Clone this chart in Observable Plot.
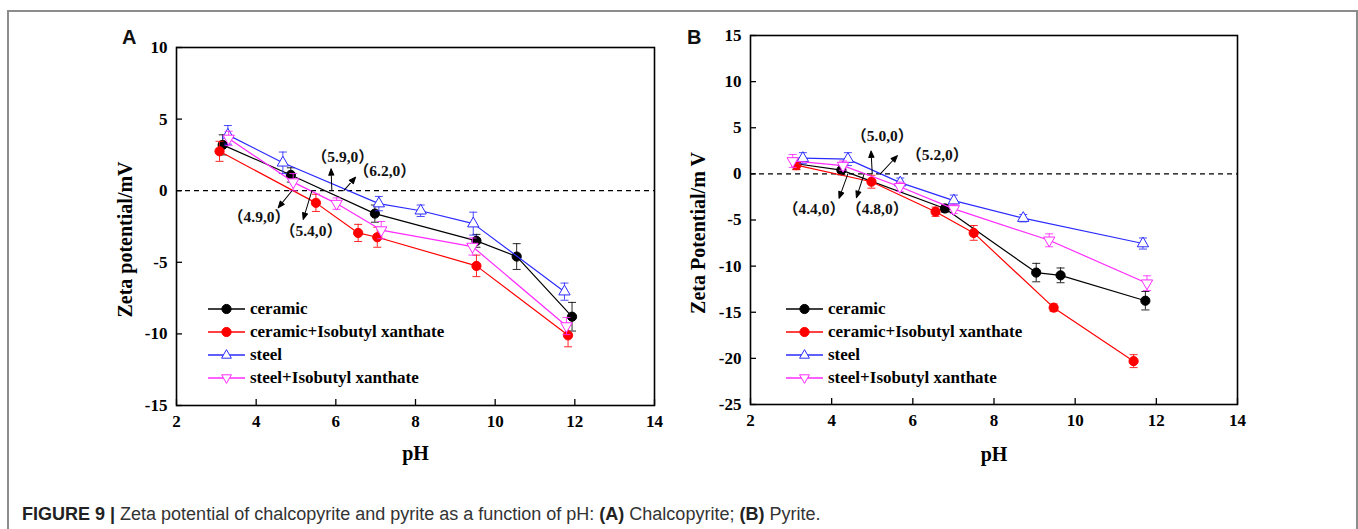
<!DOCTYPE html>
<html>
<head>
<meta charset="utf-8">
<script src="https://cdn.jsdelivr.net/npm/d3@7"></script>
<script src="https://cdn.jsdelivr.net/npm/@observablehq/plot@0.6"></script>
<style>
  body { margin: 0; background: #fff; }
  #root { position: relative; width: 1358px; height: 529px; overflow: hidden; background: #fff; }
  .panel { position: absolute; top: 0; }
  #border { position: absolute; left: 7px; top: 10px; width: 1351px; height: 600px; border: 2px solid #8c8c8c; box-sizing: border-box; pointer-events: none; z-index: 5; }
  .plabel { position: absolute; font-family: "Liberation Sans", Arial, sans-serif; font-weight: bold; font-size: 20px; line-height: 20px; color: #111; }
  .legend { position: absolute; top: 0; font-family: "Liberation Serif", "Times New Roman", serif; font-weight: bold; font-size: 17px; color: #000; z-index: 4; }
  .legend .row { position: absolute; left: 0; height: 20px; white-space: nowrap; display: flex; align-items: center; }
  .legend .row span { margin-left: 5px; }
  #caption { position: absolute; left: 22px; top: 505px; font-family: "Liberation Sans", Arial, sans-serif; font-size: 18px; line-height: 18px; color: #333; white-space: nowrap; }
  #caption b { color: #222; }
</style>
</head>
<body>
<div id="root">
  <div id="panelA" class="panel" style="left:0px"></div>
  <div id="panelB" class="panel" style="left:680px"></div>
  <div class="plabel" style="left:122px; top:27px">A</div>
  <div class="plabel" style="left:687px; top:27px">B</div>
  <div id="legendA" class="legend" style="left:208px"></div>
  <div id="legendB" class="legend" style="left:786px"></div>
  <div id="caption"><b>FIGURE 9 |</b> Zeta potential of chalcopyrite and pyrite as a function of pH: <b>(A)</b> Chalcopyrite; <b>(B)</b> Pyrite.</div>
  <div id="border"></div>
</div>
<script>
// ---------- data ----------
const pHTicks = [2, 4, 6, 8, 10, 12, 14];
const yTicksA = [-15, -10, -5, 0, 5, 10];
const yTicksB = [-25, -20, -15, -10, -5, 0, 5, 10, 15];
const seriesNames = ["ceramic", "ceramic+Isobutyl xanthate", "steel", "steel+Isobutyl xanthate"];
const yTitleA = "Zeta potential/mV";
const yTitleB = "Zeta Potential/m V";
const xTitle = "pH";

// Panel A: chalcopyrite
const aCeramicPH   = [3.16, 4.87, 6.98, 9.53, 10.54, 11.93];
const aCeramicZeta = [3.2, 1.1, -1.6, -3.5, -4.6, -8.8];
const aCeramicErr  = [0.7, 0.5, 0.6, 0.45, 0.9, 1.0];

const aCerXanPH    = [3.08, 5.5, 6.56, 7.04, 9.53, 11.83];
const aCerXanZeta  = [2.75, -0.85, -2.95, -3.25, -5.25, -10.1];
const aCerXanErr   = [0.7, 0.6, 0.6, 0.7, 0.75, 0.8];

const aSteelPH     = [3.29, 4.67, 7.08, 8.13, 9.45, 11.74];
const aSteelZeta   = [3.9, 1.95, -0.9, -1.4, -2.3, -7.05];
const aSteelErr    = [0.65, 0.75, 0.5, 0.4, 0.8, 0.6];

const aSteelXanPH  = [3.31, 4.93, 6.02, 7.14, 9.43, 11.79];
const aSteelXanZeta= [3.65, 0.6, -0.9, -2.75, -3.9, -9.45];
const aSteelXanErr = [0.5, 0.6, 0.4, 0.6, 0.6, 0.6];

// Panel B: pyrite
const bCeramicPH   = [3.13, 4.24, 6.79, 9.04, 9.64, 11.73];
const bCeramicZeta = [1.1, 0.4, -3.75, -10.7, -11.0, -13.75];
const bCeramicErr  = [0.6, 0.5, 0.4, 1.0, 0.8, 1.0];

const bCerXanPH    = [3.13, 4.98, 6.56, 7.5, 9.47, 11.44];
const bCerXanZeta  = [0.95, -0.85, -4.1, -6.4, -14.5, -20.3];
const bCerXanErr   = [0.5, 0.7, 0.5, 0.8, 0.4, 0.7];

const bSteelPH     = [3.29, 4.4, 5.69, 7.01, 8.72, 11.67];
const bSteelZeta   = [1.7, 1.6, -0.95, -2.9, -4.8, -7.55];
const bSteelErr    = [0.6, 0.7, 0.5, 0.6, 0.4, 0.6];

const bSteelXanPH  = [3.04, 4.28, 5.68, 7.01, 9.36, 11.77];
const bSteelXanZeta= [1.4, 0.9, -1.4, -3.8, -7.2, -11.85];
const bSteelXanErr = [0.7, 0.5, 0.5, 0.5, 0.7, 0.8];

// zero-crossing annotations (pH values)
const annotA = [4.9, 5.4, 5.9, 6.2];
const annotB = [5.0, 5.2, 4.4, 4.8];

// ---------- styling / layout (not data) ----------
const styles = [
  {color: "#000000", symbol: "circle", fill: "#000000", r: 4.6},
  {color: "#ff0000", symbol: "circle", fill: "#ff0000", r: 4.6},
  {color: "#2b2bff", symbol: "up",     fill: "white",   r: 4.2},
  {color: "#ff2bff", symbol: "down",   fill: "white",   r: 4.2}
];
// arrow angle (deg, clockwise from up), length (px), label offset (px)
const annotLayoutA = [
  {angle: 219, len: 22, tdx: -33, tdy: 26},
  {angle: 197, len: 30, tdx: -1,  tdy: 40},
  {angle: 358, len: 22, tdx: 11,  tdy: -34},
  {angle: 41,  len: 18, tdx: 41,  tdy: -20}
];
const annotLayoutB = [
  {angle: 357, len: 23, tdx: 10,  tdy: -38},
  {angle: 43,  len: 25, tdx: 57,  tdy: -19},
  {angle: 200, len: 26, tdx: -34, tdy: 35},
  {angle: 198, len: 25, tdx: 13,  tdy: 35}
];

const sq3 = Math.sqrt(3);
const symUp = { draw(ctx, size) { const y = -Math.sqrt(size / (sq3 * 3)); ctx.moveTo(0, y * 2); ctx.lineTo(-sq3 * y, -y); ctx.lineTo(sq3 * y, -y); ctx.closePath(); } };
const symDown = { draw(ctx, size) { const y = -Math.sqrt(size / (sq3 * 3)); ctx.moveTo(0, -y * 2); ctx.lineTo(-sq3 * y, y); ctx.lineTo(sq3 * y, y); ctx.closePath(); } };
const symCap = { draw(ctx, size) { const w = Math.sqrt(size / Math.PI); ctx.moveTo(-w, 0); ctx.lineTo(w, 0); } };
const arrowShape = { draw(ctx, l) { ctx.moveTo(0, 0); ctx.lineTo(0, -l + 4); ctx.moveTo(0, -l); ctx.lineTo(-2.6, -l + 6.5); ctx.lineTo(2.6, -l + 6.5); ctx.closePath(); } };
function symbolOf(s) { return s === "up" ? symUp : s === "down" ? symDown : "circle"; }

function rows(ph, z, e) { return ph.map((p, i) => ({ph: p, z: z[i], e: e[i]})); }

function seriesMarks(data, st) {
  return [
    Plot.line(data, {x: "ph", y: "z", stroke: st.color, strokeWidth: 1.2}),
    Plot.ruleX(data, {x: "ph", y1: d => d.z - d.e, y2: d => d.z + d.e, stroke: st.color, strokeWidth: 1, strokeOpacity: 0.85}),
    Plot.dot(data, {x: "ph", y: d => d.z + d.e, symbol: symCap, r: 4, stroke: st.color, strokeWidth: 1, strokeOpacity: 0.85}),
    Plot.dot(data, {x: "ph", y: d => d.z - d.e, symbol: symCap, r: 4, stroke: st.color, strokeWidth: 1, strokeOpacity: 0.85}),
    Plot.dot(data, {x: "ph", y: "z", symbol: symbolOf(st.symbol), r: st.r, fill: st.fill, stroke: st.color, strokeWidth: 1})
  ];
}

function annotMarks(phs, layout) {
  const out = [];
  phs.forEach((p, i) => {
    const L = layout[i];
    const d = [{ph: p, label: "（" + p.toFixed(1) + ",0）"}];
    out.push(Plot.vector(d, {x: "ph", y: () => 0, anchor: "start", rotate: L.angle, length: L.len, shape: arrowShape, stroke: "black", fill: "black", strokeWidth: 1}));
    out.push(Plot.text(d, {x: "ph", y: () => 0, text: "label", dx: L.tdx, dy: L.tdy, fontSize: 15.5, fontWeight: "bold", fontFamily: "Liberation Serif, 'Noto Sans CJK SC', serif", fill: "#111"}));
  });
  return out;
}

const fmt = d => String(d);

function makePanel(opts) {
  return Plot.plot({
    width: opts.width, height: 480,
    marginLeft: opts.ml, marginRight: opts.mr, marginTop: opts.mt, marginBottom: opts.mb,
    style: {background: "transparent", fontFamily: "'Liberation Serif', 'Times New Roman', serif", fontSize: "17px", fontWeight: "bold", color: "black", overflow: "visible"},
    x: {domain: [2, 14]},
    y: {domain: opts.ydomain},
    marks: [
      Plot.ruleY([0], {stroke: "black", strokeWidth: 1.3, strokeDasharray: "5,4"}),
      ...opts.series.flatMap((s, i) => seriesMarks(s, styles[i])),
      ...annotMarks(opts.annot, opts.annotLayout),
      Plot.frame({stroke: "black", strokeWidth: 1.6}),
      Plot.axisX(pHTicks, {tickSize: -6, tickPadding: 15, tickFormat: fmt, label: null, fontSize: 17, fontWeight: "bold", strokeWidth: 1.3}),
      Plot.axisY(opts.yticks, {tickSize: -6, tickPadding: 15, tickFormat: fmt, label: null, fontSize: 17, fontWeight: "bold", strokeWidth: 1.3}),
      Plot.text([opts.ytitle], {text: d => d, frameAnchor: "left", textAnchor: "middle", lineAnchor: "middle", rotate: -90, dx: opts.ytdx, dy: opts.ytdy, fontSize: 20, fontWeight: "bold"}),
      Plot.text([xTitle], {text: d => d, frameAnchor: "bottom", textAnchor: "middle", lineAnchor: "middle", dy: opts.xtdy, fontSize: 20, fontWeight: "bold"})
    ]
  });
}

const plotA = makePanel({
  width: 680, ml: 176, mr: 26, mt: 47, mb: 75, ydomain: [-15, 10], yticks: yTicksA,
  ytitle: yTitleA, ytdx: -51, ytdy: 13, xtdy: 48,
  series: [rows(aCeramicPH, aCeramicZeta, aCeramicErr), rows(aCerXanPH, aCerXanZeta, aCerXanErr), rows(aSteelPH, aSteelZeta, aSteelErr), rows(aSteelXanPH, aSteelXanZeta, aSteelXanErr)],
  annot: annotA, annotLayout: annotLayoutA
});
const plotB = makePanel({
  width: 620, ml: 70, mr: 63, mt: 35, mb: 76, ydomain: [-25, 15], yticks: yTicksB,
  ytitle: yTitleB, ytdx: -52, ytdy: 13, xtdy: 50,
  series: [rows(bCeramicPH, bCeramicZeta, bCeramicErr), rows(bCerXanPH, bCerXanZeta, bCerXanErr), rows(bSteelPH, bSteelZeta, bSteelErr), rows(bSteelXanPH, bSteelXanZeta, bSteelXanErr)],
  annot: annotB, annotLayout: annotLayoutB
});
document.getElementById("panelA").appendChild(plotA);
document.getElementById("panelB").appendChild(plotB);

// ---------- legends ----------
function legendSymbolSVG(st) {
  let sym;
  if (st.symbol === "circle") sym = `<circle cx="18.5" cy="7" r="4.6" fill="${st.fill}" stroke="${st.color}"/>`;
  else if (st.symbol === "up") sym = `<path d="M18.5,1.6 L23.4,10.2 L13.6,10.2 Z" fill="white" stroke="${st.color}"/>`;
  else sym = `<path d="M18.5,12.4 L23.4,3.8 L13.6,3.8 Z" fill="white" stroke="${st.color}"/>`;
  return `<svg width="37" height="14" style="overflow:visible"><line x1="0" y1="7" x2="37" y2="7" stroke="${st.color}" stroke-width="1.3"/>${sym}</svg>`;
}
const legendRowsTop = [299, 322, 345, 368];
function buildLegend(id) {
  const el = document.getElementById(id);
  el.innerHTML = seriesNames.map((n, i) =>
    `<div class="row" style="top:${legendRowsTop[i]}px">${legendSymbolSVG(styles[i])}<span>${n}</span></div>`).join("");
}
buildLegend("legendA");
buildLegend("legendB");
</script>
</body>
</html>
